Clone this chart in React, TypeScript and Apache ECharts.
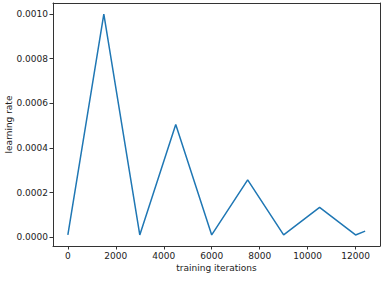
import React, { useEffect, useRef } from "react";
import * as echarts from "echarts";

const iterations = [0, 1500, 3000, 4500, 6000, 7500, 9000, 10500, 12000, 12400];
const learningRates = [0.00001, 0.001, 0.00001, 0.000505, 0.00001, 0.000257, 0.00001, 0.000134, 0.00001, 0.000027];
const xTicks = [0, 2000, 4000, 6000, 8000, 10000, 12000];
const yTicks = [0, 0.0002, 0.0004, 0.0006, 0.0008, 0.001];

export default function App() {
  const ref = useRef<HTMLDivElement>(null);
  useEffect(() => {
    document.body.style.margin = "0";
    const chart = echarts.init(ref.current!, null, { renderer: "svg" });
    const xMin = Math.min(...iterations), xMax = Math.max(...iterations);
    const yMin = Math.min(...learningRates), yMax = Math.max(...learningRates);
    const xm = (xMax - xMin) * 0.05, ym = (yMax - yMin) * 0.05;
    const font = "DejaVu Sans";
    const frameLine = { show: true, onZero: false, lineStyle: { color: "#333", width: 1 } };
    const hidden = { show: false };
    chart.setOption({
      animation: false,
      backgroundColor: "#fff",
      grid: {
        left: 53, right: 7, top: 3, bottom: 35,
        containLabel: false,
        outerBoundsMode: "none",
      },
      xAxis: [
        {
          type: "value",
          min: xMin - xm, max: xMax + xm,
          name: "training iterations",
          nameLocation: "middle",
          nameGap: 17,
          nameMoveOverlap: false,
          nameTextStyle: { fontFamily: font, fontSize: 9, color: "#222" },
          axisLine: frameLine,
          splitLine: hidden,
          axisTick: { show: true, length: 3.5, customValues: xTicks, lineStyle: { color: "#333" } },
          axisLabel: {
            customValues: xTicks, fontFamily: font, fontSize: 9, color: "#222", margin: 5,
            formatter: (v: number) => String(v),
          },
        },
        {
          type: "value", position: "top",
          min: xMin - xm, max: xMax + xm,
          axisLine: frameLine, axisTick: hidden, axisLabel: hidden, splitLine: hidden,
        },
      ],
      yAxis: [
        {
          type: "value",
          min: yMin - ym, max: yMax + ym,
          name: "learning rate",
          nameLocation: "middle",
          nameGap: 40,
          nameMoveOverlap: false,
          nameTextStyle: { fontFamily: font, fontSize: 9, color: "#222" },
          axisLine: frameLine,
          splitLine: hidden,
          axisTick: { show: true, length: 3.5, customValues: yTicks, lineStyle: { color: "#333" } },
          axisLabel: {
            customValues: yTicks, fontFamily: font, fontSize: 9, color: "#222", margin: 5,
            formatter: (v: number) => v.toFixed(4),
          },
        },
        {
          type: "value", position: "right",
          min: yMin - ym, max: yMax + ym,
          axisLine: frameLine, axisTick: hidden, axisLabel: hidden, splitLine: hidden,
        },
      ],
      series: [
        {
          type: "line",
          xAxisIndex: 0, yAxisIndex: 0,
          data: iterations.map((x, i) => [x, learningRates[i]]),
          showSymbol: false,
          lineStyle: { color: "#1f77b4", width: 1.5 },
        },
      ],
    });
    return () => chart.dispose();
  }, []);
  return <div ref={ref} style={{ width: 387, height: 281 }} />;
}
